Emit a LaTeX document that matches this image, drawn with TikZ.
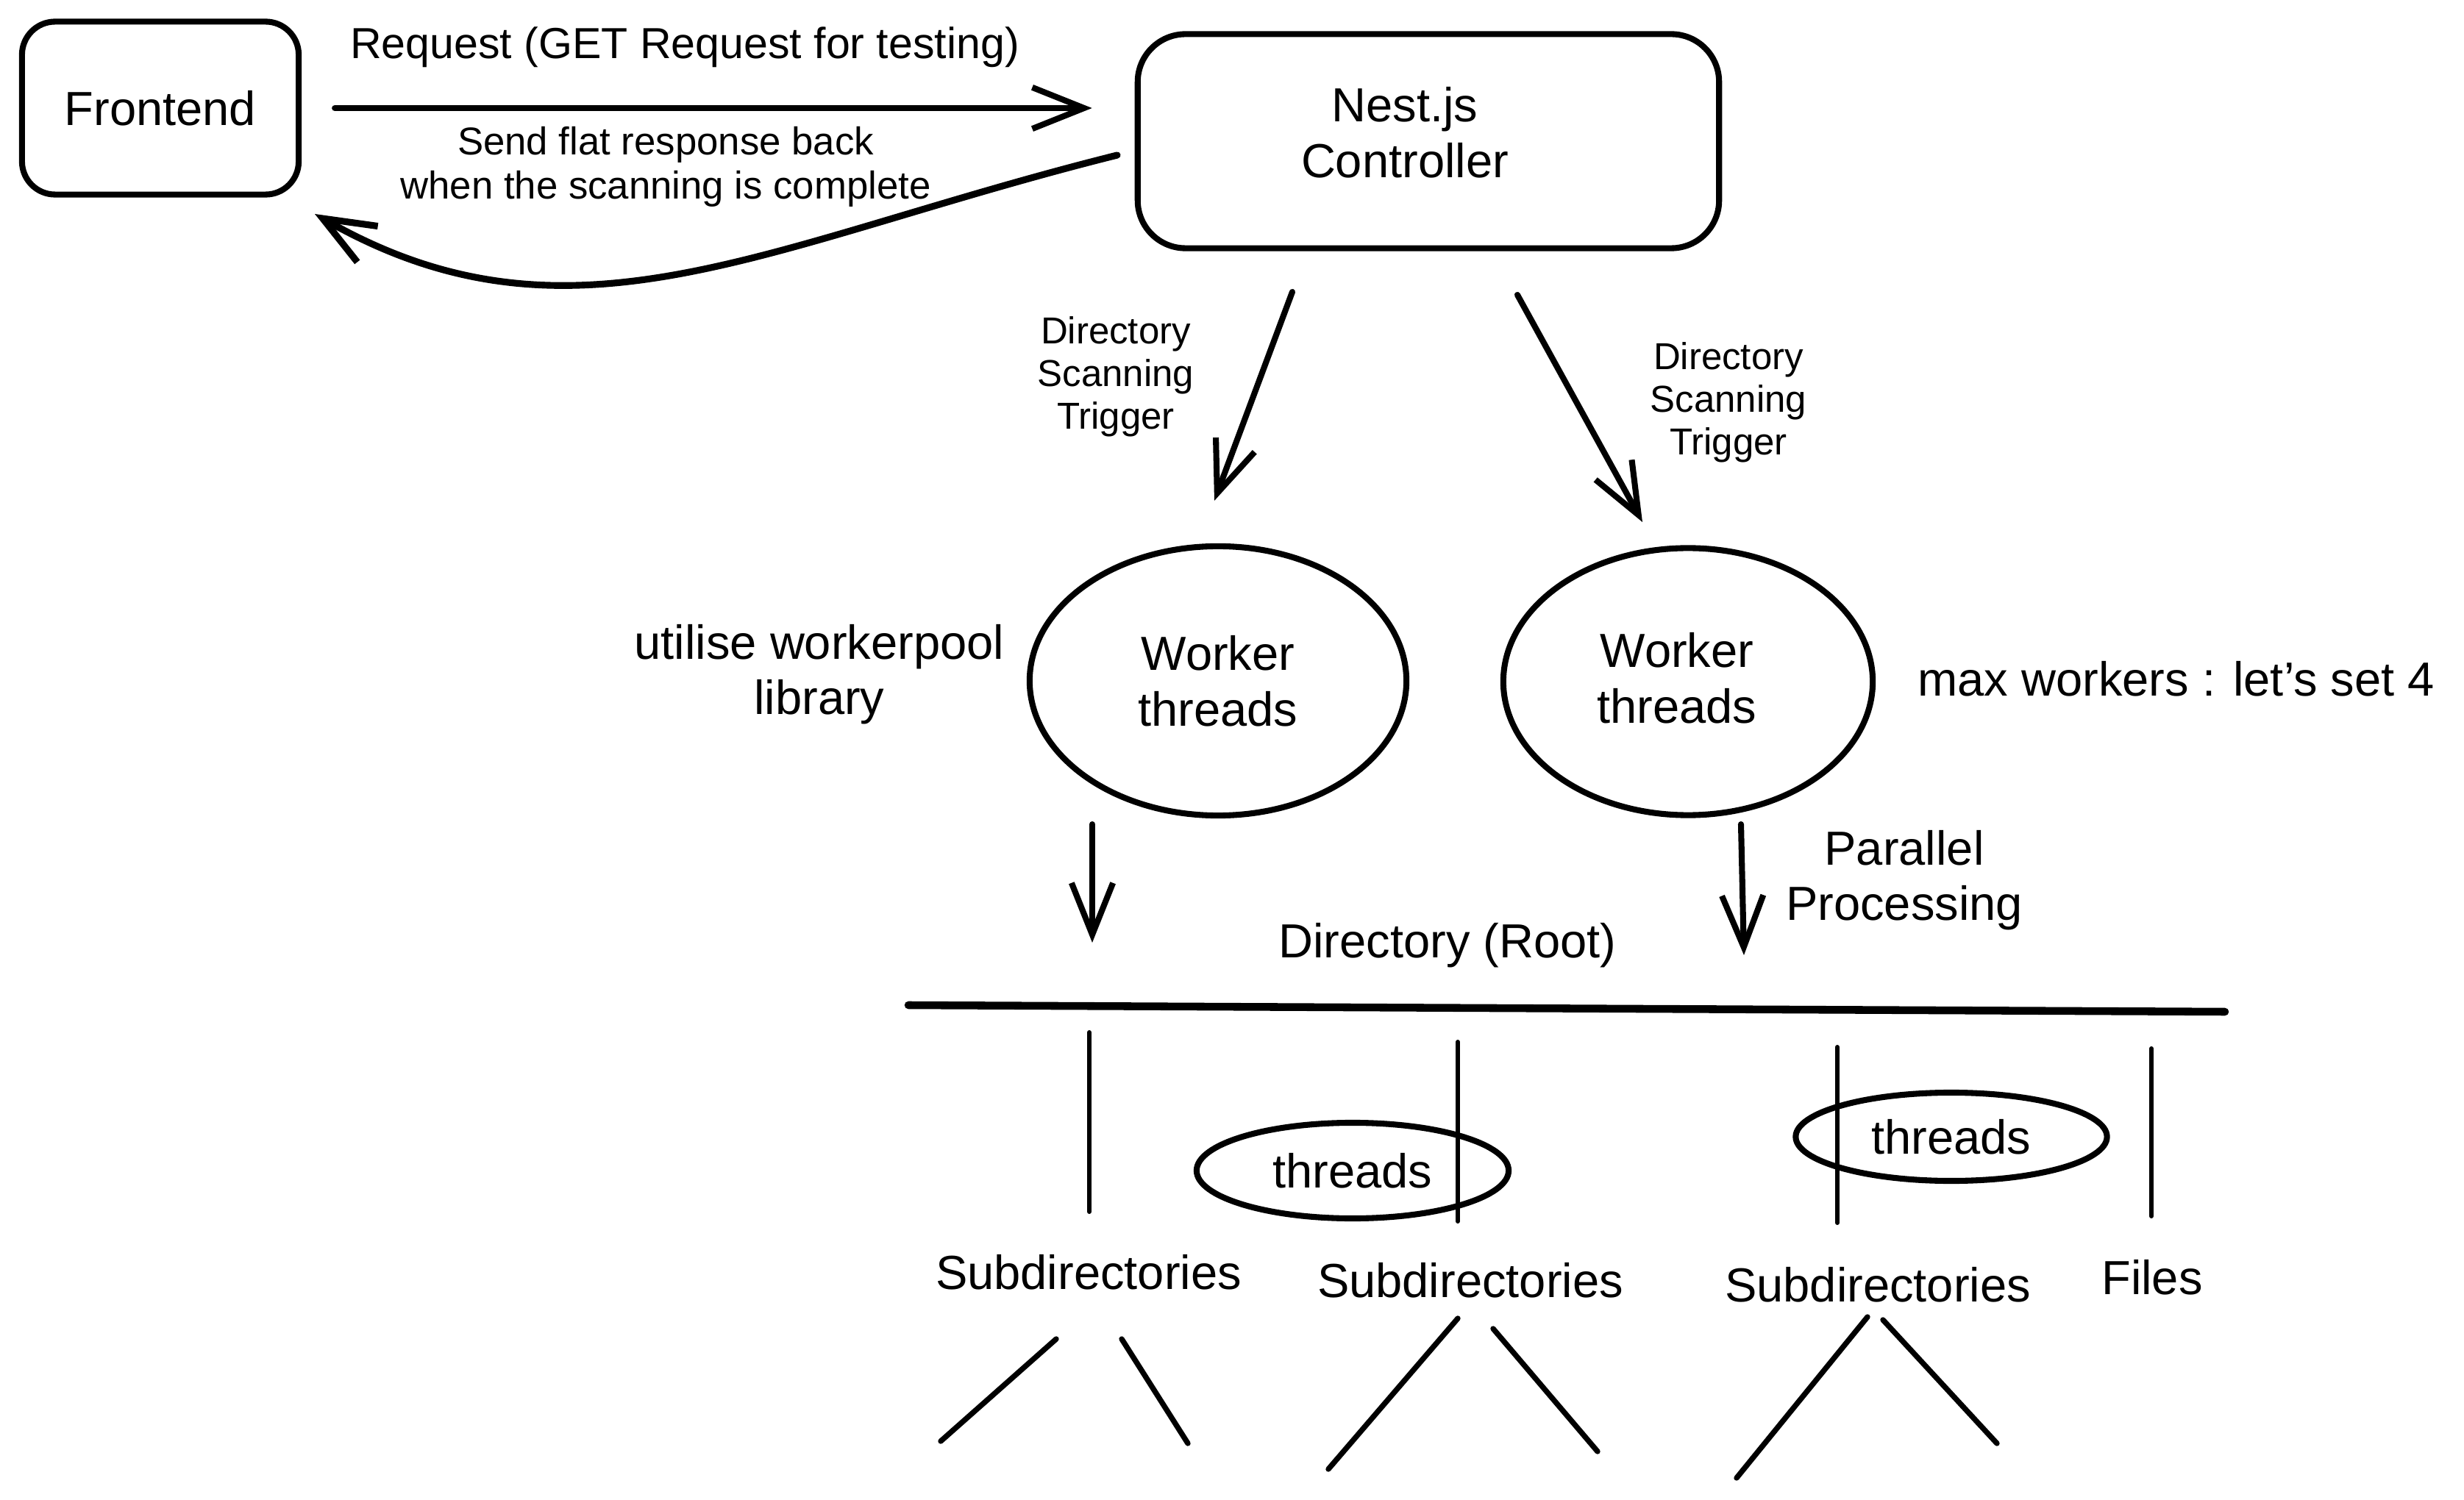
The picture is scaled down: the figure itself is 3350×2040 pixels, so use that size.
\documentclass[tikz,border=0pt]{standalone}
\usepackage{fontspec}
\setmainfont{Liberation Sans}
\usetikzlibrary{arrows.meta,shapes.geometric}
\newcommand{\bigtext}{\fontsize{18.5}{21.5}\selectfont}
\newcommand{\smalltext}{\fontsize{15}{17}\selectfont}
\newcommand{\trigtext}{\fontsize{14.5}{16.5}\selectfont}
\tikzset{
  ink/.style={line width=2.3pt, line cap=round, line join=round},
  arr/.style={ink, -{Straight Barb[length=20pt,width=16pt]}},
  box/.style={ink, draw, rectangle, rounded corners=0.5cm, align=center, font=\bigtext},
  bubble/.style={ink, draw, ellipse, inner sep=0pt, align=center, font=\bigtext},
  lbl/.style={align=center, font=\bigtext},
  note/.style={align=center, font=\smalltext},
  trig/.style={align=center, font=\trigtext},
  stem/.style={line width=1.7pt, line cap=round},
  twig/.style={line width=2.1pt, line cap=round},
}
\begin{document}
\begin{tikzpicture}[x=0.01cm,y=-0.01cm]
\useasboundingbox (0,0) rectangle (3350,2040);
% request / response
\node[box, minimum width=3.76cm, minimum height=2.35cm, rounded corners=0.45cm] (front) at (218,147) {Frontend};
\node[box, minimum width=7.9cm, minimum height=2.91cm, rounded corners=0.65cm] (nest) at (1942,192) {};
\node[lbl] (nestlbl) at (1910,180) {Nest.js\\Controller};
\node[note, font=\fontsize{16.8}{18}\selectfont] (reqlbl) at (931,64) {Request (GET Request for testing)};
\node[note] (resplbl) at (905,227) {Send flat response back\\when the scanning is complete};
\draw[arr, shorten <=0.45cm, shorten >=0.58cm] (front.east) -- (front.east -| nest.west);
\coordinate (retA) at (1519,211);
\coordinate (retB) at (428,291);
\draw[arr, line width=2.6pt] (retA) .. controls (1039,331) and (778,491) .. (retB);
% workers
\node[bubble, minimum width=5.12cm, minimum height=3.66cm] (wl) at (1656,926) {Worker\\threads};
\node[bubble, minimum width=5.02cm, minimum height=3.63cm] (wr) at (2295,927) {};
\node[lbl] (wrlbl) at (2280,922) {Worker\\threads};
\coordinate (tl0) at (1757,397); \coordinate (tl1) at (1651,681);
\coordinate (tr0) at (2063,401); \coordinate (tr1) at (2233,710);
\draw[arr] (tl0) -- (tl1);
\draw[arr] (tr0) -- (tr1);
\node[trig] (tlbl) at (1517,512) {Directory\\Scanning\\Trigger};
\node[trig] (trlbl) at (2350,547) {Directory\\Scanning\\Trigger};
\node[lbl] (pool) at (1114,917) {utilise workerpool\\library};
\node[lbl, anchor=west] (maxw) at (2595,923) {max workers : let's set 4};
% directory tree
\coordinate (dl0) at (1485,1121); \coordinate (dl1) at (1485,1282);
\coordinate (dr0) at (2367,1121); \coordinate (dr1) at (2371,1299);
\draw[arr] (dl0) -- (dl1);
\draw[arr] (dr0) -- (dr1);
\node[lbl] (par) at (2589,1197) {Parallel\\Processing};
\node[lbl] (root) at (1968,1286) {Directory (Root)};
\coordinate (rootL) at (1235,1367); \coordinate (rootR) at (3025,1376);
\draw[ink, line width=3pt] (rootL) -- (rootR);
\foreach \x/\a/\b in {1481/1404/1648, 1982/1417/1661, 2498/1424/1663, 2925/1426/1654}
  \draw[stem] (\x,\a) -- (\x,\b);
\node[bubble, minimum width=4.24cm, minimum height=1.3cm] (th1) at (1839,1592) {threads};
\node[bubble, minimum width=4.23cm, minimum height=1.2cm] (th2) at (2653,1546) {threads};
\node[lbl] (sub1) at (1480,1730) {Subdirectories};
\node[lbl] (sub2) at (1999,1741) {Subdirectories};
\node[lbl] (sub3) at (2553,1747) {Subdirectories};
\node[lbl] (files) at (2926,1737) {Files};
\foreach \xa/\ya/\xb/\yb in {1436/1821/1279/1960, 1525/1821/1615/1963,
    1982/1793/1806/1998, 2030/1807/2172/1974,
    2539/1791/2361/2010, 2560/1795/2715/1963}
  \draw[twig] (\xa,\ya) -- (\xb,\yb);
\end{tikzpicture}
\end{document}
